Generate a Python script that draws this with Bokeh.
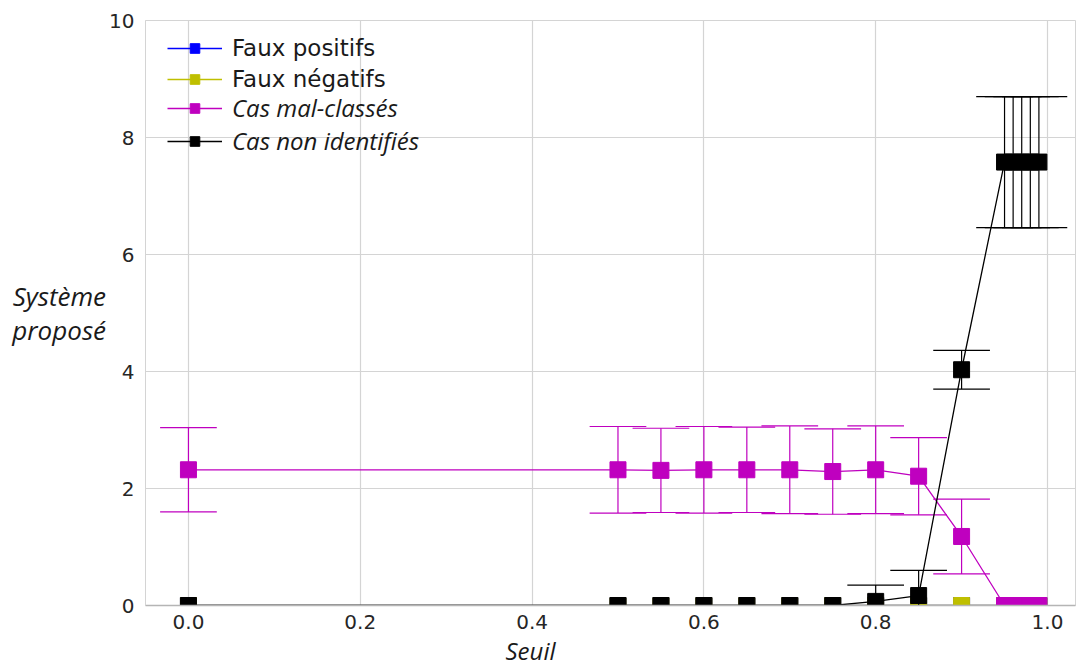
from bokeh.plotting import figure
from bokeh.models import Range1d, FixedTicker, Legend, LegendItem, Title
from bokeh.embed import file_html
from bokeh.resources import INLINE

# ---- data ----
seuil = [0.0, 0.5, 0.55, 0.6, 0.65, 0.7, 0.75, 0.8, 0.85, 0.9, 0.95, 0.96, 0.97, 0.98, 0.99]
faux_positifs = [0, 0, 0, 0, 0, 0, 0, 0, 0, 0, 0, 0, 0, 0, 0]
faux_positifs_err = [0, 0, 0, 0, 0, 0, 0, 0, 0, 0, 0, 0, 0, 0, 0]
faux_negatifs = [0, 0, 0, 0, 0, 0, 0, 0, 0, 0, 0, 0, 0, 0, 0]
faux_negatifs_err = [0, 0, 0, 0, 0, 0, 0, 0, 0, 0, 0, 0, 0, 0, 0]
mal_classes = [2.32, 2.32, 2.31, 2.32, 2.32, 2.32, 2.29, 2.32, 2.21, 1.18, 0, 0, 0, 0, 0]
mal_classes_err = [0.72, 0.74, 0.72, 0.74, 0.73, 0.75, 0.73, 0.75, 0.66, 0.64, 0, 0, 0, 0, 0]
non_identifies = [0, 0, 0, 0, 0, 0, 0, 0.07, 0.17, 4.03, 7.58, 7.58, 7.58, 7.58, 7.58]
non_identifies_err = [0, 0, 0, 0, 0, 0, 0, 0.28, 0.43, 0.33, 1.12, 1.12, 1.12, 1.12, 1.12]

x_ticks = [0.0, 0.2, 0.4, 0.6, 0.8, 1.0]
y_ticks = [0, 2, 4, 6, 8, 10]

series = [
    ("Faux positifs", faux_positifs, faux_positifs_err, "#0000ff"),
    ("Faux négatifs", faux_negatifs, faux_negatifs_err, "#bfbf00"),
    ("Cas mal-classés", mal_classes, mal_classes_err, "#bf00bf"),
    ("Cas non identifiés", non_identifies, non_identifies_err, "#000000"),
]

X0, X1 = -0.05, 1.0326
p = figure(width=1077, height=666, x_range=Range1d(X0, X1), y_range=Range1d(0, 10),
           output_backend="svg", toolbar_location=None,
           min_border_left=145, min_border_right=2, min_border_top=20, min_border_bottom=30)
p.background_fill_color = "white"
p.border_fill_color = "white"
p.outline_line_color = "#d4d4d4"

p.xaxis.ticker = FixedTicker(ticks=x_ticks)
p.yaxis.ticker = FixedTicker(ticks=y_ticks)
p.xaxis.major_label_overrides = {t: f"{t:.1f}" for t in x_ticks}
for ax in (p.xaxis, p.yaxis):
    ax.major_tick_out = 0
    ax.major_tick_in = 0
    ax.minor_tick_out = 0
    ax.minor_tick_in = 0
    ax.major_label_text_font = "DejaVu Sans"
    ax.major_label_text_font_size = "20px"
    ax.major_label_text_color = "#262626"
    ax.major_label_standoff = 11
p.xaxis.major_label_standoff = 9
p.xaxis.axis_line_color = "#b5b5b5"
p.xaxis.axis_line_width = 1.5
p.yaxis.axis_line_color = "#d4d4d4"
p.grid.grid_line_color = "#d4d4d4"
p.grid.grid_line_width = 1.2

ya = p.yaxis[0]
ya.axis_label = "Système\nproposé"
ya.axis_label_text_font = "Open Sans"
ya.axis_label_text_font_style = "italic"
ya.axis_label_text_font_size = "26px"
ya.axis_label_text_line_height = 0.95
ya.axis_label_text_color = "#1a1a1a"
ya.axis_label_standoff = 0
if hasattr(ya, "axis_label_orientation"):
    ya.axis_label_orientation = "horizontal"

p.add_layout(Title(text="Seuil", align="left", offset=360, text_font="Open Sans",
                   text_font_style="italic", text_font_size="24px", text_color="#1a1a1a",
                   standoff=0), "below")

cap_half = 0.033
handles = []
for name, ys, errs, color in series:
    ex = [x for x, e in zip(seuil, errs) if e > 0]
    ey = [y for y, e in zip(ys, errs) if e > 0]
    ee = [e for e in errs if e > 0]
    if ex:
        p.segment(x0=ex, y0=[y - e for y, e in zip(ey, ee)], x1=ex, y1=[y + e for y, e in zip(ey, ee)],
                  line_color=color, line_width=1.2)
        for sgn in (1, -1):
            p.segment(x0=[x - cap_half for x in ex], y0=[y + sgn * e for y, e in zip(ey, ee)],
                      x1=[x + cap_half for x in ex], y1=[y + sgn * e for y, e in zip(ey, ee)],
                      line_color=color, line_width=1.2)
    ln = p.line(seuil, ys, line_color=color, line_width=1.3)
    sq = p.scatter(seuil, ys, marker="square", size=16, fill_color=color, line_color=color)
    handles.append((name, ln, sq))

common = dict(padding=0, margin=0, spacing=0, glyph_height=24, glyph_width=55, label_height=31,
              label_standoff=10, border_line_alpha=0, background_fill_alpha=0,
              label_text_color="#1a1a1a")
# frame: top at 20, bottom at 605 (page px); legend rows centred at 47, 79 / 110, 142
legA = Legend(items=[LegendItem(label=n, renderers=[l, s]) for n, l, s in handles[:2]],
              location=(22, 605 - 94), label_text_font="DejaVu Sans", label_text_font_size="23px", **common)
legB = Legend(items=[LegendItem(label=n, renderers=[l, s]) for n, l, s in handles[2:]],
              location=(22, 605 - 157), label_text_font="Open Sans", label_text_font_style="italic",
              label_text_font_size="24px", **common)
p.add_layout(legA)
p.add_layout(legB)

open("out.html", "w").write(file_html(p, INLINE))
